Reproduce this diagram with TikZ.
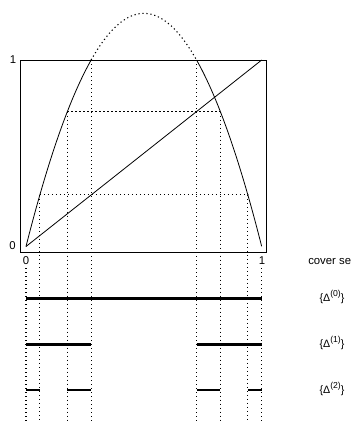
\documentclass[tikz,border=0pt]{standalone}
\usepackage{fontspec}
\setmainfont{Liberation Sans}
\begin{document}
\begin{tikzpicture}[x=0.75pt,y=-0.75pt,
  lbl/.style={font=\fontsize{8.5}{10}\selectfont, inner sep=0pt},
  dlbl/.style={font=\fontsize{8}{10}\selectfont, inner sep=0pt},
  thinl/.style={line width=0.6pt},
  dotl/.style={line width=0.8pt, dash pattern=on 0.9pt off 2.1pt},
  cover/.style={line width=2pt}]
\useasboundingbox (0,0) rectangle (357,421);
% frame
\draw[thinl] (20,60) rectangle (266,252);
% axis labels
\node[lbl] (y1) at (13,59.5) {1};
\node[lbl] (y0) at (12.5,245.5) {0};
\node[lbl] (x0) at (26,261) {0};
\node[lbl] (x1) at (262,261) {1};
\node[lbl, anchor=west] (cs) at (308,262) {cover se};
\node[dlbl] (d0) at (332,297) {\{Δ\raisebox{0.85ex}{\fontsize{6.5}{7}\selectfont(0)}\}};
\node[dlbl] (d1) at (332,343) {\{Δ\raisebox{0.85ex}{\fontsize{6.5}{7}\selectfont(1)}\}};
\node[dlbl] (d2) at (332,389) {\{Δ\raisebox{0.85ex}{\fontsize{6.5}{7}\selectfont(2)}\}};
\begin{scope}[shift={(26,246.5)}, x=176.775pt, y=139.875pt]
  \def\pa{0.27639}\def\pb{0.72361}
  \def\pc{0.05873}\def\pC{0.94127}
  \def\pd{0.17553}\def\pD{0.82447}
  \def\vb{-0.9357}
  % map
  \draw[thinl] plot[domain=0:\pa, samples=40] (\x,{5*\x*(1-\x)});
  \draw[thinl] plot[domain=\pb:1, samples=40] (\x,{5*\x*(1-\x)});
  \draw[dotl] plot[domain=\pa:\pb, samples=80] (\x,{5*\x*(1-\x)});
  % diagonal
  \draw[thinl] (0,0) -- (1,1);
  % horizontal dotted
  \draw[dotl] (\pd,\pb) -- (\pD,\pb);
  \draw[dotl] (\pc,\pa) -- (\pC,\pa);
  % vertical dotted
  \draw[dotl] (\pa,1) -- (\pa,\vb);
  \draw[dotl] (\pb,1) -- (\pb,\vb);
  \draw[dotl] (\pd,\pb) -- (\pd,\vb);
  \draw[dotl] (\pD,\pb) -- (\pD,\vb);
  \draw[dotl] (\pc,\pa) -- (\pc,\vb);
  \draw[dotl] (\pC,\pa) -- (\pC,\vb);
  \draw[dotl] (0,-0.1153) -- (0,\vb);
  \draw[dotl] (1,-0.1153) -- (1,\vb);
  % cover sets
  \draw[cover] (0,-0.2777) -- (1,-0.2777);
  \draw[cover] (0,-0.5244) -- (\pa,-0.5244);
  \draw[cover] (\pb,-0.5244) -- (1,-0.5244);
  \draw[cover] (0,-0.7694) -- (\pc,-0.7694);
  \draw[cover] (\pd,-0.7694) -- (\pa,-0.7694);
  \draw[cover] (\pb,-0.7694) -- (\pD,-0.7694);
  \draw[cover] (\pC,-0.7694) -- (1,-0.7694);
\end{scope}
\end{tikzpicture}
\end{document}
